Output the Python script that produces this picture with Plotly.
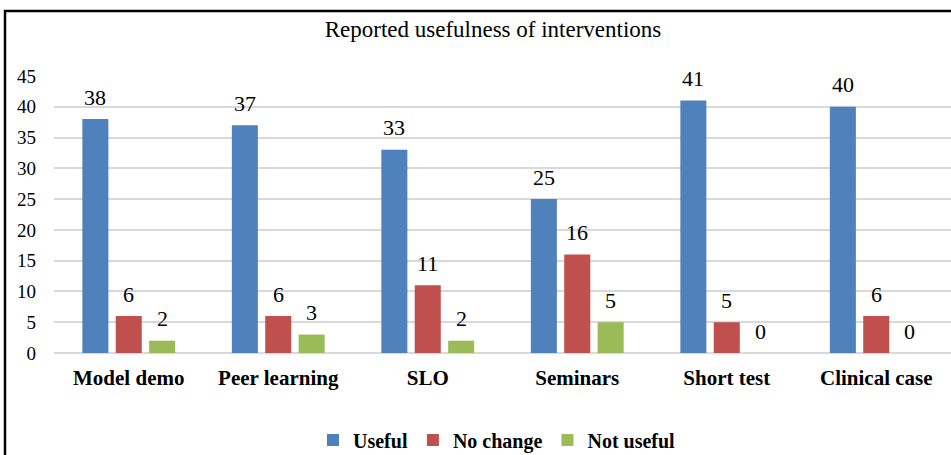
import plotly.graph_objects as go

categories = ["Model demo", "Peer learning", "SLO", "Seminars", "Short test", "Clinical case"]
useful = [38, 37, 33, 25, 41, 40]
no_change = [6, 6, 11, 16, 5, 6]
not_useful = [2, 3, 2, 5, 0, 0]
series_names = ["Useful", "No change", "Not useful"]
colors = ["#4F81BD", "#C0504D", "#9BBB59"]
y_ticks = [0, 5, 10, 15, 20, 25, 30, 35, 40, 45]

SERIF = "Liberation Serif, Times New Roman, serif"
W, H = 951, 455
ML, MR, MT, MB = 54, 0, 76, 102
pw, ph = W - ML - MR, H - MT - MB
BARGAP, BARGROUPGAP = 0.33, 0.22

fig = go.Figure()
all_series = [useful, no_change, not_useful]
for name, vals, col in zip(series_names, all_series, colors):
    fig.add_trace(go.Bar(
        name=name, x=categories, y=vals, marker_color=col,
        marker_line_width=0, cliponaxis=False,
    ))

# value labels placed through the axis scales, offset to each bar's slot in the group
slot = pw / len(categories) * (1 - BARGAP) / len(all_series)
annotations = []
for si, vals in enumerate(all_series):
    for cat, v in zip(categories, vals):
        annotations.append(dict(
            x=cat, y=v, xref="x", yref="y", text=str(v), showarrow=False,
            xshift=(si - 1) * slot, yshift=22, yanchor="middle",
            font=dict(family=SERIF, size=22, color="#000000"),
        ))

def px_x(p):
    return (p - ML) / pw

def px_y(p):
    return (H - MB - p) / ph

fig.update_layout(
    width=W, height=H,
    margin=dict(l=ML, r=MR, t=MT, b=MB, autoexpand=False),
    paper_bgcolor="white", plot_bgcolor="white",
    barmode="group", bargap=BARGAP, bargroupgap=BARGROUPGAP,
    title=dict(text="Reported usefulness of interventions",
               font=dict(family=SERIF, size=23, color="#000000"),
               x=px_x(493), xanchor="center", xref="paper", y=(H - 29) / H, yanchor="middle"),
    showlegend=True,
    legend=dict(orientation="h", x=px_x(497), xanchor="center", y=px_y(440), yanchor="middle",
                font=dict(family=SERIF, size=20, color="#000000", weight="bold"),
                itemwidth=30, tracegroupgap=0),
    xaxis=dict(showgrid=False, showline=False, ticks="", automargin=False,
               tickfont=dict(family=SERIF, size=21, color="#000000", weight="bold"),
               ticklabelstandoff=10),
    yaxis=dict(range=[0, 45], tickvals=y_ticks, showgrid=True, gridcolor="#D9D9D9", gridwidth=1.5,
               zeroline=True, zerolinecolor="#D9D9D9", zerolinewidth=1.5, automargin=False,
               tickfont=dict(family=SERIF, size=19, color="#000000"),
               ticklabelstandoff=17, showline=False, ticks=""),
    annotations=annotations,
    shapes=[dict(type="rect", xref="paper", yref="paper",
                 x0=px_x(5), x1=px_x(W + 20), y0=px_y(H + 20), y1=px_y(11),
                 line=dict(color="#000000", width=2.5), fillcolor="rgba(0,0,0,0)", layer="above")],
)

fig.write_html("out.html", config={"displayModeBar": False},
               post_script="document.body.style.margin='0';")
